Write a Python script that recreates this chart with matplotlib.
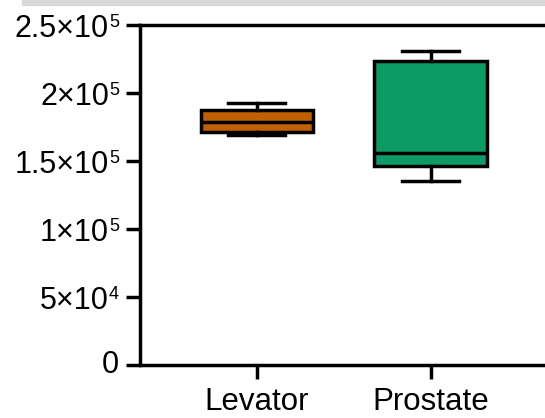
import matplotlib
matplotlib.use('Agg')
import matplotlib.pyplot as plt
from matplotlib.patches import Rectangle
from matplotlib.transforms import offset_copy

groups = ['Levator', 'Prostate']
whisker_low = [168800, 135400]
q1 = [171500, 146100]
medians = [178900, 156100]
q3 = [187500, 223300]
whisker_high = [192800, 230900]
colors = ['#C06000', '#0C9A65']

yticks = [0, 50000, 100000, 150000, 200000, 250000]
ytick_mant = ['0', '5×10', '1×10', '1.5×10', '2×10', '2.5×10']
ytick_exp = ['', '4', '5', '5', '5', '5']

plt.rcParams['font.family'] = ['Liberation Sans', 'DejaVu Sans']

fig = plt.figure(figsize=(5.45, 4.18), dpi=100)
# grey strip along the top edge
fig.patches.append(Rectangle((22 / 545, 1 - 5 / 418), 1, 5 / 418,
                             transform=fig.transFigure, color='#d9d9d9', zorder=0))

ax = fig.add_axes([140 / 545, 1 - 365 / 418, 1 - 140 / 545, (365 - 25) / 418])

stats = []
for i, g in enumerate(groups):
    stats.append({'label': g, 'whislo': whisker_low[i], 'q1': q1[i], 'med': medians[i],
                  'q3': q3[i], 'whishi': whisker_high[i], 'fliers': []})

lw = 2.5
bp = ax.bxp(stats, positions=[1, 2], widths=0.645, patch_artist=True, showfliers=False,
            boxprops=dict(linewidth=lw, edgecolor='black'),
            medianprops=dict(color='black', linewidth=lw),
            whiskerprops=dict(color='black', linewidth=lw),
            capprops=dict(color='black', linewidth=lw),
            capwidths=0.33)
for patch, c in zip(bp['boxes'], colors):
    patch.set_facecolor(c)

ax.set_xlim(0.328, 2.659)
ax.set_ylim(0, 250000)
ax.set_yticks(yticks)
ax.set_yticklabels([''] * len(yticks))
ax.set_xticks([1, 2])
ax.set_xticklabels(groups)

ax.spines['right'].set_visible(False)
for s in ['left', 'bottom', 'top']:
    ax.spines[s].set_linewidth(lw)
ax.tick_params(axis='y', length=10, width=lw)
ax.tick_params(axis='x', length=10, width=lw, labelsize=22.5, pad=6)

# y tick labels drawn by hand so the exponent sits level with the top of the digits
px = 0.72  # points per pixel at 100 dpi
for val, mant, ex in zip(yticks, ytick_mant, ytick_exp):
    if ex == '':
        tr = offset_copy(ax.get_yaxis_transform(), fig=fig, x=-21 * px, y=0, units='points')
        ax.text(0, val, mant, transform=tr, ha='right', va='center', fontsize=22, clip_on=False)
        continue
    tr = offset_copy(ax.get_yaxis_transform(), fig=fig, x=-21 * px, y=11 * px, units='points')
    et = ax.text(0, val, ex, transform=tr, ha='right', va='top', fontsize=13, clip_on=False)
    ax.annotate(mant, xy=(0, 1), xycoords=et, xytext=(0, 0), textcoords='offset points',
                ha='right', va='top', fontsize=22, annotation_clip=False)

fig.savefig('out.png', dpi=100)
plt.close(fig)
